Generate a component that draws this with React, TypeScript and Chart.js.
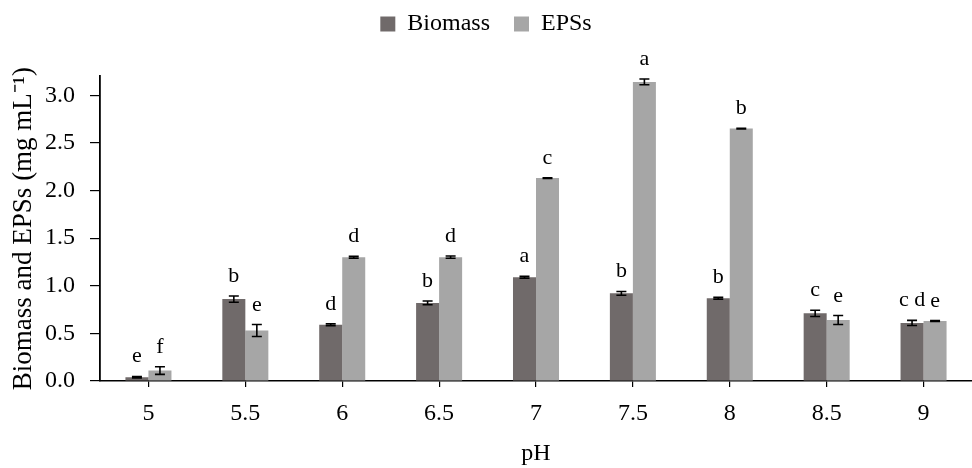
import React, { useEffect, useRef } from "react";
import { Chart, registerables } from "chart.js";

Chart.register(...registerables);

const categories = ["5", "5.5", "6", "6.5", "7", "7.5", "8", "8.5", "9"];
const biomass = [0.04, 0.86, 0.59, 0.82, 1.09, 0.92, 0.87, 0.71, 0.61];
const biomassErr = [0.008, 0.033, 0.01, 0.02, 0.01, 0.02, 0.01, 0.033, 0.027];
const biomassLetters = ["e", "b", "d", "b", "a", "b", "b", "c", "c d"];
const eps = [0.11, 0.53, 1.3, 1.3, 2.13, 3.14, 2.65, 0.64, 0.63];
const epsErr = [0.04, 0.063, 0.01, 0.012, 0.004, 0.03, 0.004, 0.047, 0.004];
const epsLetters = ["f", "e", "d", "d", "c", "a", "b", "e", "e"];
const yTicks = [0, 0.5, 1.0, 1.5, 2.0, 2.5, 3.0];

const FONT = "'Liberation Serif', 'Times New Roman', serif";

const errorBarPlugin = {
  id: "errorBarsLetters",
  afterDatasetsDraw(chart: any) {
    const ctx = chart.ctx;
    const yScale = chart.scales.y;
    chart.data.datasets.forEach((ds: any, di: number) => {
      const meta = chart.getDatasetMeta(di);
      meta.data.forEach((bar: any, i: number) => {
        const v = ds.data[i];
        const e = ds.errors[i];
        const x = bar.x;
        const yT = yScale.getPixelForValue(v + e);
        const yB = yScale.getPixelForValue(v - e);
        ctx.save();
        ctx.strokeStyle = "#000";
        ctx.lineWidth = 1.6;
        ctx.beginPath();
        ctx.moveTo(x, yT);
        ctx.lineTo(x, yB);
        ctx.moveTo(x - 5, yT);
        ctx.lineTo(x + 5, yT);
        ctx.moveTo(x - 5, yB);
        ctx.lineTo(x + 5, yB);
        ctx.stroke();
        ctx.fillStyle = "#000";
        ctx.font = `22px ${FONT}`;
        ctx.textAlign = "center";
        ctx.textBaseline = "alphabetic";
        ctx.fillText(ds.letters[i], x, yT - 14);
        ctx.restore();
      });
    });
  },
};

export default function App() {
  const ref = useRef<HTMLCanvasElement | null>(null);
  useEffect(() => {
    if (!ref.current) return;
    Chart.defaults.font.family = FONT;
    Chart.defaults.color = "#000";
    const chart = new Chart(ref.current, {
      type: "bar",
      data: {
        labels: categories,
        datasets: [
          {
            label: "Biomass",
            data: biomass,
            errors: biomassErr,
            letters: biomassLetters,
            backgroundColor: "#706a6a",
            categoryPercentage: 0.475,
            barPercentage: 1,
          } as any,
          {
            label: "EPSs",
            data: eps,
            errors: epsErr,
            letters: epsLetters,
            backgroundColor: "#a6a6a6",
            categoryPercentage: 0.475,
            barPercentage: 1,
          } as any,
        ],
      },
      options: {
        animation: false,
        responsive: false,
        layout: { padding: { top: -12, left: 0, right: 0, bottom: 0 } },
        plugins: {
          legend: {
            position: "top",
            labels: {
              boxWidth: 15,
              boxHeight: 15,
              padding: 24,
              font: { size: 24, family: FONT },
              color: "#000",
            },
          },
          title: {
            display: true,
            text: "",
            position: "top",
            weight: 500,
            font: { size: 1 },
            padding: { top: 0, bottom: 29 },
          },
          tooltip: { enabled: false },
        },
        scales: {
          x: {
            grid: {
              drawOnChartArea: false,
              offset: false,
              tickLength: 6,
              color: "#000",
              lineWidth: 1.2,
            },
            border: { color: "#000", width: 1.5 },
            ticks: { font: { size: 24 }, color: "#000", padding: 12 },
            title: {
              display: true,
              text: "pH",
              font: { size: 24 },
              color: "#000",
              padding: { top: 0, bottom: 0 },
            },
            afterFit(scale: any) {
              scale.height = 87;
              scale.paddingLeft = 0;
              scale.paddingRight = 0;
            },
          },
          y: {
            min: 0,
            max: 3.2,
            grid: {
              drawOnChartArea: false,
              tickLength: 10,
              color: "#000",
              lineWidth: 1.2,
            },
            border: { color: "#000", width: 1.8 },
            ticks: {
              stepSize: 0.5,
              includeBounds: false,
              font: { size: 24 },
              color: "#000",
              padding: 15,
              callback: (v: any) => Number(v).toFixed(1),
            },
            afterBuildTicks(scale: any) {
              scale.ticks = yTicks.map((v) => ({ value: v }));
            },
            title: {
              display: true,
              text: "Biomass and EPSs (mg mL\u207B\u00B9)",
              font: { size: 27 },
              color: "#000",
              padding: { top: 8, bottom: 0 },
            },
            afterFit(scale: any) {
              scale.width = 100;
              scale.paddingBottom = 0;
            },
          },
        },
      },
      plugins: [errorBarPlugin],
    } as any);
    return () => chart.destroy();
  }, []);
  return (
    <div style={{ position: "fixed", left: 0, top: 0, width: 972, height: 468, background: "#fff" }}>
      <canvas ref={ref} width={972} height={468} style={{ display: "block" }} />
    </div>
  );
}
